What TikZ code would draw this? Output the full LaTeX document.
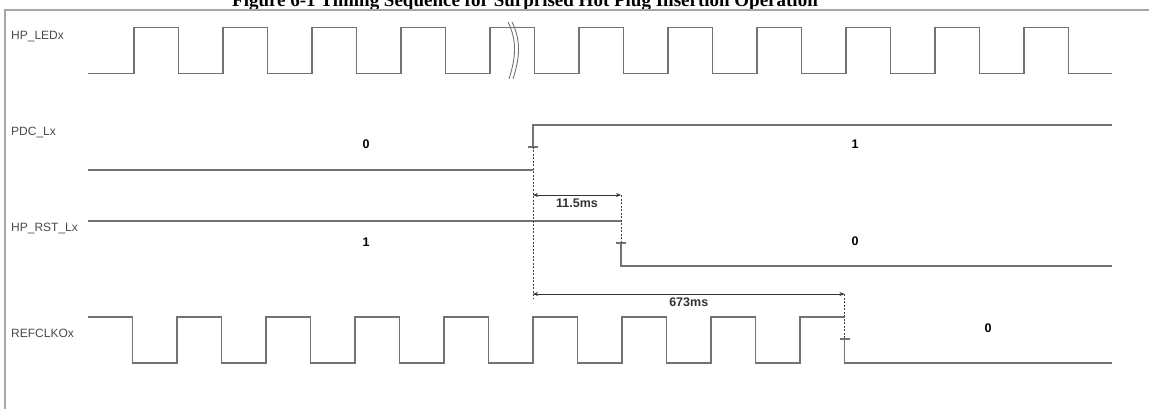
\documentclass[tikz,border=0pt]{standalone}
\usepackage{fontspec}
\setmainfont{Liberation Serif}
\setsansfont{Liberation Sans}
\usetikzlibrary{arrows.meta}
\definecolor{wavegray}{HTML}{727272}
\definecolor{textgray}{HTML}{4A4A4A}

\begin{document}
\begin{tikzpicture}[x=1pt,y=-1pt,>={Stealth[length=5pt,width=4pt]},
  wave/.style={wavegray,line width=1.1pt},
  sig/.style={font=\sffamily\fontsize{12}{14}\selectfont,text=textgray,anchor=west,inner sep=0pt},
  lvl/.style={font=\sffamily\bfseries\fontsize{12.5}{14}\selectfont,inner sep=0pt},
  guide/.style={black!75,line width=0.8pt,dash pattern=on 2pt off 1.5pt},
  dim/.style={<->,black!80,line width=0.9pt}]
\useasboundingbox (0,0) rectangle (1149,409);
\node[font=\rmfamily\bfseries\fontsize{19}{22}\selectfont,anchor=base,inner sep=0pt] (title) at (525,7)
  {Figure 6-1 Timing Sequence for Surprised Hot Plug Insertion Operation};
\draw[gray!70,line width=1.4pt] (5,409)--(5,10)--(1149,10);
% signal names
\node[sig] (led) at (11,37) {HP\_LEDx};
\node[sig] (pdc) at (11,133) {PDC\_Lx};
\node[sig] (rst) at (11,229) {HP\_RST\_Lx};
\node[sig] (clk) at (11,333) {REFCLKOx};
% edges
\coordinate (pdcedge) at (533,147);
\coordinate (rstedge) at (621,243);
\coordinate (clkedge) at (844.5,339);
\coordinate (a1l) at (533,195); \coordinate (a1r) at (621,195);
\coordinate (a2l) at (533,294); \coordinate (a2r) at (844.5,294);
% HP_LEDx
\draw[wave] (88,73.3) \foreach \n in {0,2,...,20}{
  -- ({134+44.5*\n},73.3) -- ({134+44.5*\n},27.5) -- ({178.5+44.5*\n},27.5) -- ({178.5+44.5*\n},73.3)} -- (1112,73.3);
\draw[wave,line width=0.9pt] (508,22) .. controls (518,42) and (515,60) .. (509,79);
\draw[wave,line width=0.9pt] (512,22) .. controls (522,42) and (519,60) .. (513,79);
% PDC_Lx
\draw[wave] (88,170) -- (533,170);
\draw[wave] (pdcedge) -- (533,125) -- (1112,125);
\draw[wave] ([xshift=-5pt]pdcedge) -- ([xshift=5pt]pdcedge);
% HP_RST_Lx
\draw[wave] (88,221) -- (621,221);
\draw[wave] (rstedge) -- (621,266) -- (1112,266);
\draw[wave] ([xshift=-5pt]rstedge) -- ([xshift=5pt]rstedge);
% REFCLKOx
\draw[wave] (88,317) \foreach \n in {0,2,...,14}{
  -- ({132.5+44.5*\n},317) -- ({132.5+44.5*\n},363) -- ({177+44.5*\n},363) -- ({177+44.5*\n},317)} -- (844.5,317);
\draw[wave] (clkedge) -- (844.5,363) -- (1112,363);
\draw[wave] ([xshift=-5pt]clkedge) -- ([xshift=5pt]clkedge);
% timing marks
\draw[guide] (pdcedge) -- ([yshift=-4pt]a2l);
\draw[guide] (a1r) -- (rstedge);
\draw[guide] (a2r) -- (clkedge);
\draw[dim] (a1l) -- (a1r) node[midway,below=3pt,lvl] (t1) {11.5ms};
\draw[dim] (a2l) -- (a2r) node[midway,below=3pt,lvl] (t2) {673ms};
% levels
\node[lvl] (pdc0) at (366,144) {0};
\node[lvl] (pdc1) at (855,144) {1};
\node[lvl] (rst1) at (366,242) {1};
\node[lvl] (rst0) at (855,241) {0};
\node[lvl] (clk0) at (988,328) {0};
\end{tikzpicture}
\end{document}
